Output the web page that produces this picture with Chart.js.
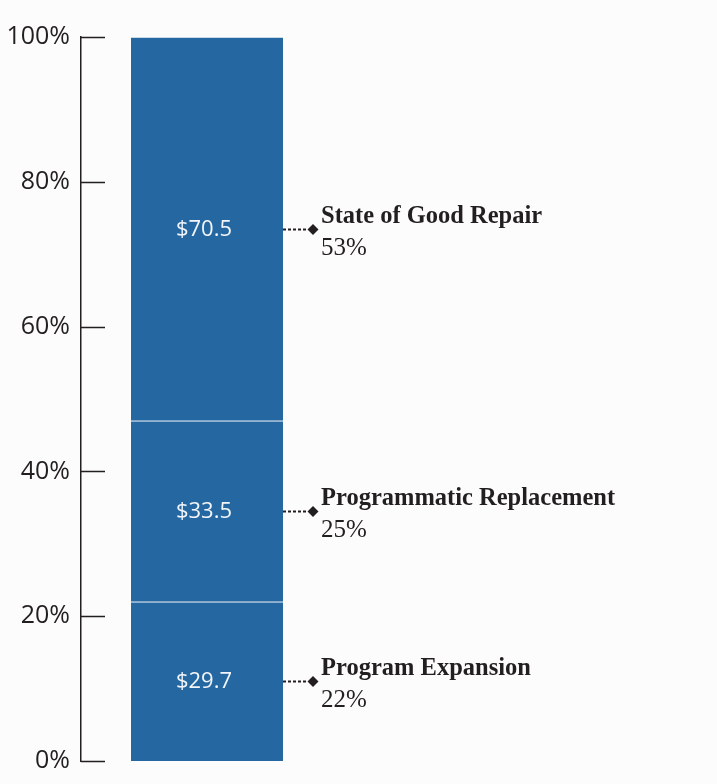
<!DOCTYPE html>
<html lang="en">
<head>
  <meta charset="UTF-8">
  <title>Capital program by category</title>
  <script src="https://cdn.jsdelivr.net/npm/chart.js"></script>
  <style>
    html, body {
      margin: 0;
      padding: 0;
      background-color: #fcfcfc;
    }
    #chart {
      display: block;
    }
  </style>
</head>
<body>

<canvas id="chart" width="717" height="784"></canvas>

<script>
  // bottom to top
  const categories = ['Program Expansion', 'Programmatic Replacement', 'State of Good Repair'];
  const shares = [22, 25, 53];          // % of total
  const dollars = [29.7, 33.5, 70.5];   // $ billions
  const yTicks = [0, 20, 40, 60, 80, 100];

  const barColor = '#2467a1';
  const inkColor = '#231f20';

  // short tick marks pointing into the plot, and the callouts on the right
  const annotate = {
    id: 'annotate',
    afterDraw(chart) {
      const ctx = chart.ctx;
      const y = chart.scales.y;
      const axisX = chart.chartArea.left;

      ctx.save();
      ctx.strokeStyle = inkColor;
      ctx.lineWidth = 1.5;
      yTicks.forEach(v => {
        const py = Math.round(y.getPixelForValue(v)) + 0.5;
        ctx.beginPath();
        ctx.moveTo(axisX, py);
        ctx.lineTo(axisX + 24, py);
        ctx.stroke();
      });

      chart.data.datasets.forEach((ds, i) => {
        const el = chart.getDatasetMeta(i).data[0];
        const cy = Math.round((el.y + el.base) / 2) + 0.5;
        const right = el.x + el.width / 2;

        // value inside the bar
        ctx.fillStyle = '#f2f5f9';
        ctx.font = '22px "Open Sans"';
        ctx.textAlign = 'center';
        ctx.textBaseline = 'middle';
        ctx.fillText('$' + dollars[i].toFixed(1), el.x - 3, cy);

        // dashed leader + diamond
        ctx.strokeStyle = inkColor;
        ctx.lineWidth = 1.8;
        ctx.setLineDash([3, 2]);
        ctx.beginPath();
        ctx.moveTo(right, cy);
        ctx.lineTo(right + 24, cy);
        ctx.stroke();
        ctx.setLineDash([]);

        const dx = right + 30;
        ctx.fillStyle = inkColor;
        ctx.beginPath();
        ctx.moveTo(dx, cy - 5.5);
        ctx.lineTo(dx + 5.5, cy);
        ctx.lineTo(dx, cy + 5.5);
        ctx.lineTo(dx - 5.5, cy);
        ctx.closePath();
        ctx.fill();

        // category + share
        ctx.textAlign = 'left';
        ctx.textBaseline = 'alphabetic';
        ctx.font = 'bold 24.5px "Liberation Serif"';
        ctx.fillText(categories[i], right + 38, cy - 7);
        ctx.font = '25px "Liberation Serif"';
        ctx.fillText(shares[i] + '%', right + 38, cy + 25);
      });
      ctx.restore();
    }
  };

  new Chart(document.getElementById('chart'), {
    type: 'bar',
    data: {
      labels: [''],
      datasets: categories.map((name, i) => ({
        label: name,
        data: [shares[i]],
        backgroundColor: barColor,
        borderColor: '#ffffff',
        borderWidth: { top: 1, right: 0, bottom: 0, left: 0 },
        borderSkipped: false,
        barThickness: 152
      }))
    },
    options: {
      responsive: false,
      animation: false,
      layout: {
        padding: { top: 37, bottom: 23, left: 0, right: 384 }
      },
      plugins: {
        legend: { display: false },
        tooltip: { enabled: false }
      },
      scales: {
        x: {
          stacked: true,
          display: false
        },
        y: {
          stacked: true,
          min: 0,
          max: 100,
          afterFit: scale => {
            scale.width = 81;
            scale.paddingTop = 0;
            scale.paddingBottom = 0;
          },
          afterBuildTicks: scale => { scale.ticks = yTicks.map(v => ({ value: v })); },
          border: { display: true, color: inkColor, width: 1.5 },
          grid: { display: false, drawTicks: false },
          ticks: {
            padding: 11,
            color: inkColor,
            font: { family: 'Open Sans', size: 25 },
            callback: v => v + '%'
          }
        }
      }
    },
    plugins: [annotate]
  });
</script>

</body>
</html>
